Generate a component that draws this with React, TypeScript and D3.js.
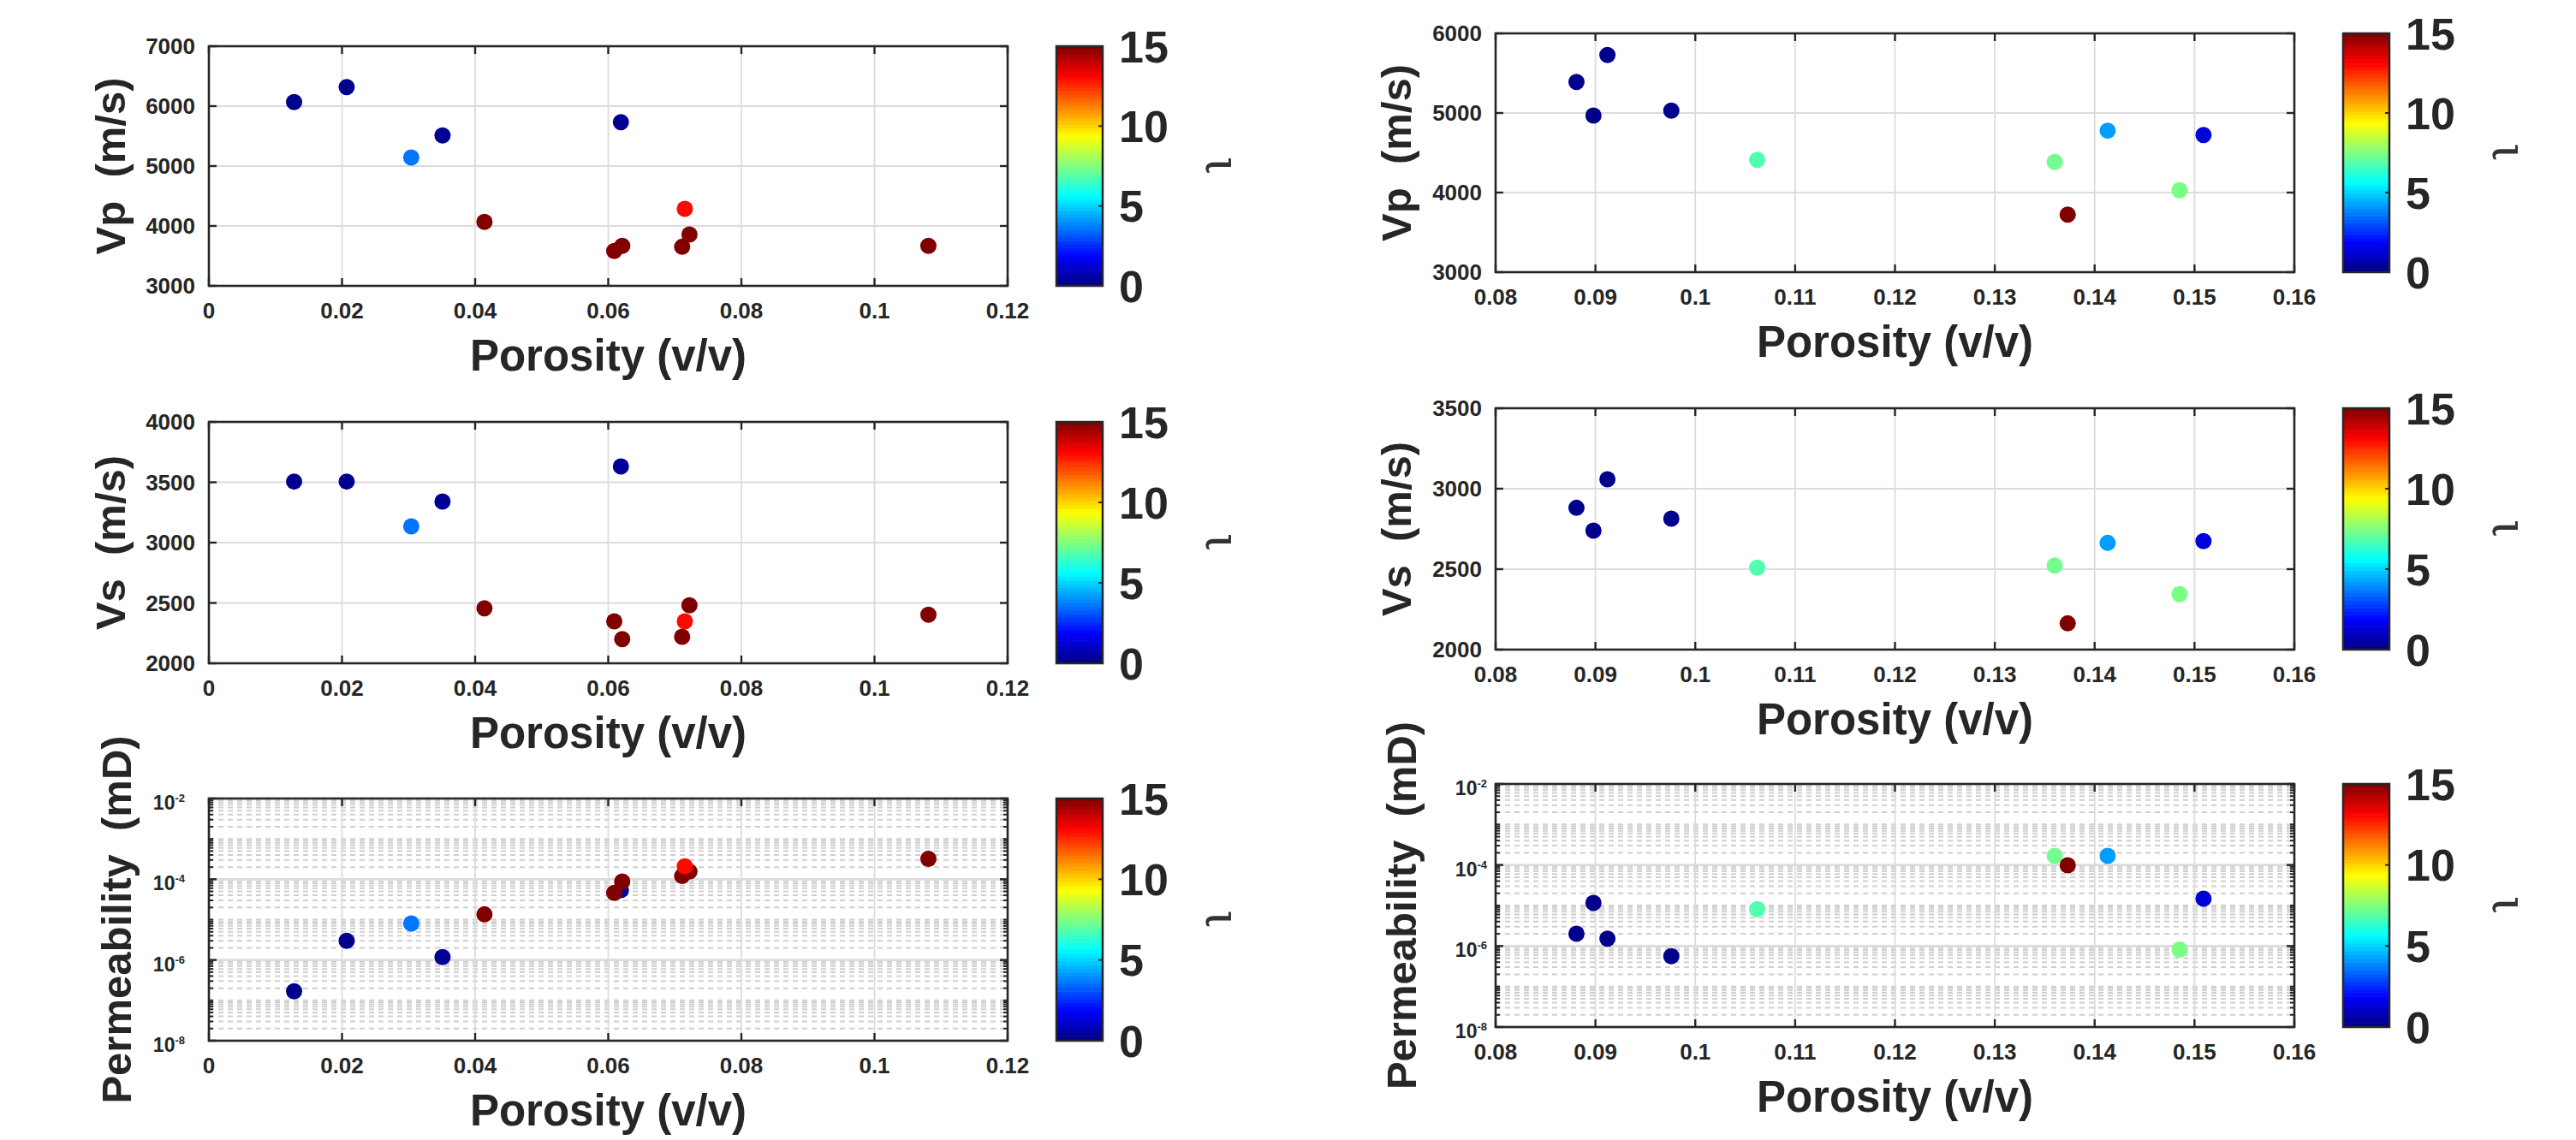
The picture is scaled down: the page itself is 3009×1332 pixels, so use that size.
import React from 'react';
import * as d3 from 'd3';

// ---------------- data ----------------
const leftPorosity = [0.0128, 0.0207, 0.0304, 0.0351, 0.0619, 0.0414, 0.0609, 0.0621, 0.0711, 0.0722, 0.0715, 0.1081];
const leftVp = [6067, 6319, 5143, 5510, 5733, 4067, 3581, 3667, 3652, 3857, 4286, 3667];
const leftVs = [3506, 3506, 3135, 3340, 3631, 2456, 2348, 2201, 2220, 2480, 2348, 2402];
const leftPerm = [1.67e-7, 2.98e-6, 8.0e-6, 1.18e-6, 5.4e-5, 1.35e-5, 4.6e-5, 8.8e-5, 1.2e-4, 1.55e-4, 2.1e-4, 3.2e-4];
const leftGamma = [0.2, 0.2, 3.6, 0.3, 0.3, 15, 15, 15, 15, 15, 13, 15];

const rightPorosity = [0.0881, 0.0898, 0.0912, 0.0976, 0.1062, 0.136, 0.1373, 0.1413, 0.1509, 0.1485];
const rightVp = [5390, 4968, 5728, 5029, 4412, 4384, 3724, 4778, 4724, 4029];
const rightVs = [2881, 2739, 3059, 2814, 2509, 2523, 2163, 2663, 2674, 2344];
const rightPerm = [2.0e-6, 1.16e-5, 1.52e-6, 5.6e-7, 8.1e-6, 1.68e-4, 9.8e-5, 1.68e-4, 1.48e-5, 8.2e-7];
const rightGamma = [0.2, 0.2, 0.2, 0.2, 6.8, 7.3, 15, 4.2, 1.3, 7.4];

const leftXTicks = [0, 0.02, 0.04, 0.06, 0.08, 0.1, 0.12];
const rightXTicks = [0.08, 0.09, 0.1, 0.11, 0.12, 0.13, 0.14, 0.15, 0.16];
const vpLeftTicks = [3000, 4000, 5000, 6000, 7000];
const vpRightTicks = [3000, 4000, 5000, 6000];
const vsLeftTicks = [2000, 2500, 3000, 3500, 4000];
const vsRightTicks = [2000, 2500, 3000, 3500];
const permTickExps = [-8, -6, -4, -2];
const colorbarTicks = [0, 5, 10, 15];

const xLabel = 'Porosity (v/v)';
const vpLabel = 'Vp\u00a0\u00a0(m/s)';
const vsLabel = 'Vs\u00a0\u00a0(m/s)';
const permLabel = 'Permeability\u00a0\u00a0(mD)';
const cbLabel = 'ι';

// ---------------- style ----------------
const W = 3009;
const H = 1332;
const FONT = '"Liberation Sans", Arial, Helvetica, sans-serif';
const INK = '#262626';
const GRID = '#dcdcdc';

function jet(t: number): string {
  const c = (v: number) => Math.max(0, Math.min(1, v));
  const r = c(1.5 - Math.abs(4 * t - 3));
  const g = c(1.5 - Math.abs(4 * t - 2));
  const b = c(1.5 - Math.abs(4 * t - 1));
  return d3.rgb(r * 255, g * 255, b * 255).formatHex();
}
const gammaNorm = d3.scaleLinear().domain([0, 15]).range([0, 1]).clamp(true);

type PanelCfg = {
  x0: number; x1: number; y0: number; y1: number;
  xDomain: [number, number]; xTicks: number[];
  log: boolean; yDomain: [number, number]; yTicks: number[];
  ylabel: string; ylabX: number;
  px: number[]; py: number[]; g: number[];
  cbX: number; logLabelGap: number;
};

const panels: PanelCfg[] = [
  { x0: 244, x1: 1177, y0: 54, y1: 334, xDomain: [0, 0.12], xTicks: leftXTicks, log: false, yDomain: [3000, 7000], yTicks: vpLeftTicks, ylabel: vpLabel, ylabX: 129, px: leftPorosity, py: leftVp, g: leftGamma, cbX: 1234, logLabelGap: 28 },
  { x0: 244, x1: 1177, y0: 493, y1: 775, xDomain: [0, 0.12], xTicks: leftXTicks, log: false, yDomain: [2000, 4000], yTicks: vsLeftTicks, ylabel: vsLabel, ylabX: 129, px: leftPorosity, py: leftVs, g: leftGamma, cbX: 1234, logLabelGap: 28 },
  { x0: 244, x1: 1177, y0: 933, y1: 1216, xDomain: [0, 0.12], xTicks: leftXTicks, log: true, yDomain: [1e-8, 1e-2], yTicks: permTickExps, ylabel: permLabel, ylabX: 136, px: leftPorosity, py: leftPerm, g: leftGamma, cbX: 1234, logLabelGap: 28 },
  { x0: 1747, x1: 2680, y0: 39, y1: 318, xDomain: [0.08, 0.16], xTicks: rightXTicks, log: false, yDomain: [3000, 6000], yTicks: vpRightTicks, ylabel: vpLabel, ylabX: 1631, px: rightPorosity, py: rightVp, g: rightGamma, cbX: 2737, logLabelGap: 10 },
  { x0: 1747, x1: 2680, y0: 477, y1: 759, xDomain: [0.08, 0.16], xTicks: rightXTicks, log: false, yDomain: [2000, 3500], yTicks: vsRightTicks, ylabel: vsLabel, ylabX: 1631, px: rightPorosity, py: rightVs, g: rightGamma, cbX: 2737, logLabelGap: 10 },
  { x0: 1747, x1: 2680, y0: 916, y1: 1200, xDomain: [0.08, 0.16], xTicks: rightXTicks, log: true, yDomain: [1e-8, 1e-2], yTicks: permTickExps, ylabel: permLabel, ylabX: 1637, px: rightPorosity, py: rightPerm, g: rightGamma, cbX: 2737, logLabelGap: 10 },
];

const fmtX = (v: number) => String(+v.toFixed(3));

function Colorbar({ x, y0, y1 }: { x: number; y0: number; y1: number }) {
  const w = 54;
  const cs = d3.scaleLinear().domain([0, 15]).range([y1, y0]);
  const n = 64;
  const steps = d3.range(n);
  const h = (y1 - y0) / n;
  return (
    <g>
      {steps.map((i) => (
        <rect key={i} x={x} y={y1 - (i + 1) * h - 0.3} width={w} height={h + 0.6} fill={jet((i + 0.5) / n)} />
      ))}
      <rect x={x} y={y0} width={w} height={y1 - y0} fill="none" stroke={INK} strokeWidth={2.5} />
      {colorbarTicks.map((t) => (
        <g key={t}>
          <line x1={x + w - 5} x2={x + w} y1={cs(t)} y2={cs(t)} stroke={INK} strokeWidth={2} />
          <text x={x + w + 19} y={cs(t)} dy="0.36em" fontSize={52} fontWeight="bold" fill={INK} fontFamily={FONT}>{t}</text>
        </g>
      ))}
      <text transform={`translate(${x + w + 138},${(y0 + y1) / 2}) rotate(90)`} textAnchor="middle" dy="0.3em" fontSize={56} fill="#333" fontFamily={'"DejaVu Serif", serif'}>{cbLabel}</text>
    </g>
  );
}

function Panel({ p }: { p: PanelCfg }) {
  const xs = d3.scaleLinear().domain(p.xDomain).range([p.x0, p.x1]);
  const ys: any = p.log
    ? d3.scaleLog().domain(p.yDomain).range([p.y1, p.y0])
    : d3.scaleLinear().domain(p.yDomain).range([p.y1, p.y0]);
  const majorY = p.log ? p.yTicks.map((e) => Math.pow(10, e)) : p.yTicks;
  const minorY: number[] = [];
  if (p.log) {
    for (let e = -8; e < -2; e++) {
      for (let k = 1; k <= 9; k++) {
        const v = k * Math.pow(10, e);
        if (k === 1 && e % 2 === 0) continue;
        minorY.push(v);
      }
    }
  }
  const tl = 9;
  return (
    <g>
      {minorY.map((v, i) => (
        <line key={'mg' + i} x1={p.x0} x2={p.x1} y1={ys(v)} y2={ys(v)} stroke="#cfcfcf" strokeWidth={2} strokeDasharray="6 5" />
      ))}
      {p.xTicks.map((t) => (
        <line key={'gx' + t} x1={xs(t)} x2={xs(t)} y1={p.y0} y2={p.y1} stroke={GRID} strokeWidth={1.8} />
      ))}
      {majorY.map((t) => (
        <line key={'gy' + t} x1={p.x0} x2={p.x1} y1={ys(t)} y2={ys(t)} stroke={GRID} strokeWidth={p.log ? 2.6 : 1.8} />
      ))}
      {p.px.map((xv, i) => (
        <circle key={'pt' + i} cx={xs(xv)} cy={ys(p.py[i])} r={9.5} fill={jet(gammaNorm(p.g[i]))} />
      ))}
      <rect x={p.x0} y={p.y0} width={p.x1 - p.x0} height={p.y1 - p.y0} fill="none" stroke={INK} strokeWidth={2.6} />
      {p.xTicks.map((t) => (
        <g key={'tx' + t}>
          <line x1={xs(t)} x2={xs(t)} y1={p.y1} y2={p.y1 - tl} stroke={INK} strokeWidth={2.4} />
          <line x1={xs(t)} x2={xs(t)} y1={p.y0} y2={p.y0 + tl} stroke={INK} strokeWidth={2.4} />
          <text x={xs(t)} y={p.y1 + 38} textAnchor="middle" fontSize={26} fontWeight="bold" fill={INK} fontFamily={FONT}>{fmtX(t)}</text>
        </g>
      ))}
      {majorY.map((t, i) => (
        <g key={'ty' + i}>
          <line x1={p.x0} x2={p.x0 + tl} y1={ys(t)} y2={ys(t)} stroke={INK} strokeWidth={2.4} />
          <line x1={p.x1} x2={p.x1 - tl} y1={ys(t)} y2={ys(t)} stroke={INK} strokeWidth={2.4} />
          {p.log ? (
            <text x={p.x0 - p.logLabelGap} y={ys(t) + 13} textAnchor="end" fontSize={23} fontWeight="bold" fill={INK} fontFamily={FONT}>
              10<tspan fontSize={13} dy={-9}>{p.yTicks[i]}</tspan>
            </text>
          ) : (
            <text x={p.x0 - 16} y={ys(t)} dy="0.36em" textAnchor="end" fontSize={26} fontWeight="bold" fill={INK} fontFamily={FONT}>{t}</text>
          )}
        </g>
      ))}
      {minorY.map((v, i) => (
        <g key={'mt' + i}>
          <line x1={p.x0} x2={p.x0 + 5} y1={ys(v)} y2={ys(v)} stroke={INK} strokeWidth={2} />
          <line x1={p.x1} x2={p.x1 - 5} y1={ys(v)} y2={ys(v)} stroke={INK} strokeWidth={2} />
        </g>
      ))}
      <text x={(p.x0 + p.x1) / 2} y={p.y1 + 99} textAnchor="middle" fontSize={51} fontWeight="bold" fill={INK} fontFamily={FONT}>{xLabel}</text>
      <text transform={`translate(${p.ylabX},${(p.y0 + p.y1) / 2}) rotate(-90)`} textAnchor="middle" dy="0.35em" fontSize={49} fontWeight="bold" fill={INK} fontFamily={FONT}>{p.ylabel}</text>
      <Colorbar x={p.cbX} y0={p.y0} y1={p.y1} />
    </g>
  );
}

export default function App() {
  return (
    <svg width={W} height={H} viewBox={`0 0 ${W} ${H}`} style={{ position: 'absolute', left: 0, top: 0, background: '#fff' }}>
      <rect x={0} y={0} width={W} height={H} fill="#fff" />
      {panels.map((p, i) => (
        <Panel key={i} p={p} />
      ))}
    </svg>
  );
}
